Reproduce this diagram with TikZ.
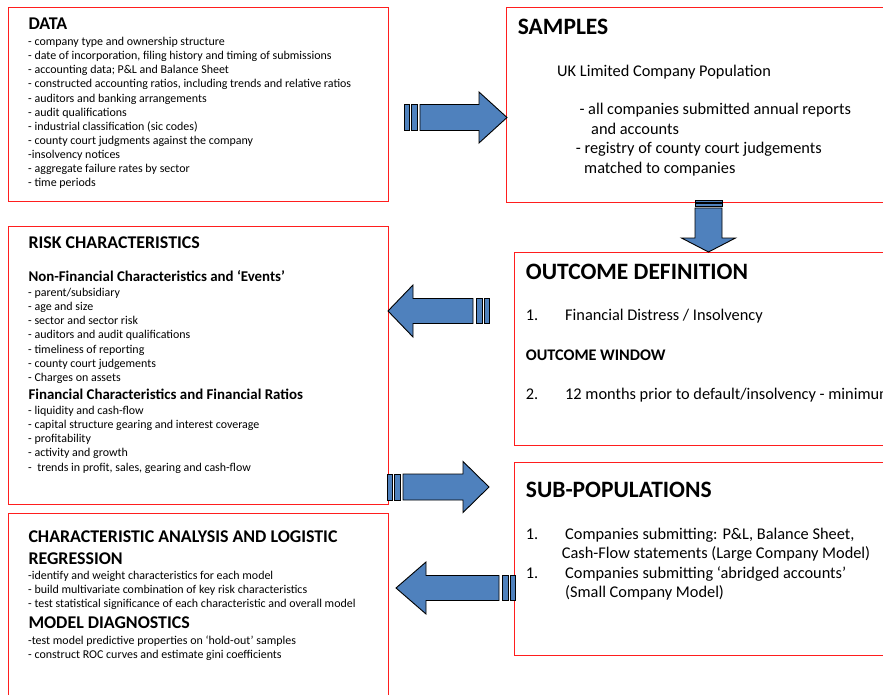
\documentclass[tikz,border=0pt]{standalone}
\usepackage{fontspec}
\setmainfont{Carlito}
\definecolor{arrblue}{RGB}{79,129,189}
\definecolor{boxred}{RGB}{255,30,30}
\tikzset{
  box/.style={draw=boxred, line width=0.9pt, rectangle, inner sep=0pt, anchor=north west},
  txt/.style={anchor=base west, inner sep=0pt, text=black},
  item/.style={txt, font=\fontsize{11.95}{14}\selectfont},
  ttl/.style={txt, font=\bfseries\fontsize{17.9}{21.6}\selectfont},
  subttl/.style={txt, font=\bfseries\fontsize{14.9}{17}\selectfont},
  big/.style={txt, font=\fontsize{16.35}{19.5}\selectfont},
  bigbold/.style={txt, font=\bfseries\fontsize{16.2}{19.5}\selectfont},
  bigttl/.style={txt, font=\bfseries\fontsize{23.5}{28}\selectfont},
  arrowfill/.style={fill=arrblue, draw=black, line width=0.9pt, line join=miter},
  arrlen/.store in=\arrL, arrhead/.store in=\arrH, arrshaft/.store in=\arrS,
  arrwide/.store in=\arrW, arrbar/.store in=\arrB,
  arrlen=100, arrhead=28, arrshaft=13, arrwide=26, arrbar=1,
  sarrow/.pic={
    \path[arrowfill] (0,-\arrS) rectangle ({5*\arrB},\arrS);
    \path[arrowfill] ({7*\arrB},-\arrS) rectangle ({13*\arrB},\arrS);
    \path[arrowfill] ({16*\arrB},-\arrS) -- ({\arrL-\arrH},-\arrS) -- ({\arrL-\arrH},-\arrW)
      -- (\arrL,0) -- ({\arrL-\arrH},\arrW) -- ({\arrL-\arrH},\arrS) -- ({16*\arrB},\arrS) -- cycle;
  }
}
\begin{document}
\begin{tikzpicture}[x=1pt,y=-1pt]
\useasboundingbox (0,0) rectangle (883,695);
\clip (0,0) rectangle (883,695);

% boxes
\node[box, minimum width=380pt, minimum height=194pt] (data) at (8,7) {};
\node[box, minimum width=400pt, minimum height=195pt] (samples) at (506,7) {};
\node[box, minimum width=380pt, minimum height=278pt] (risk) at (8,226) {};
\node[box, minimum width=390pt, minimum height=193pt] (outcome) at (514,252) {};
\node[box, minimum width=390pt, minimum height=193pt] (subpop) at (514,462) {};
\node[box, minimum width=380pt, minimum height=200pt] (charbox) at (8,513) {};

% DATA
\node[ttl] (dataT) at (28.3,29.3) {DATA};
\foreach \t [count=\i] in {
  {- company type and ownership structure},
  {- date of incorporation, filing history and timing of submissions},
  {- accounting data; P\&L and Balance Sheet},
  {- constructed accounting ratios, including trends and relative ratios},
  {- auditors and banking arrangements},
  {- audit qualifications},
  {- industrial classification (sic codes)},
  {- county court judgments against the company},
  {-insolvency notices},
  {- aggregate failure rates by sector},
  {- time periods}}
  \node[item] (d\i) at (28,{45.5+14.13*(\i-1)}) {\t};

% SAMPLES
\node[bigttl] (sampT) at (517.7,35) {SAMPLES};
\node[big] (s1) at (557,77) {UK Limited Company Population};
\node[big] (s2) at (579.3,115) {- all companies submitted annual reports};
\node[big] (s3) at (591,134.5) {and accounts};
\node[big] (s4) at (575.7,154) {- registry of county court judgements};
\node[big] (s5) at (584,173.5) {matched to companies};

% RISK
\node[ttl] (riskT) at (28.3,248) {RISK CHARACTERISTICS};
\node[subttl] (riskA) at (28.3,281) {Non-Financial Characteristics and ‘Events’};
\foreach \t [count=\i] in {
  {- parent/subsidiary},
  {- age and size},
  {- sector and sector risk},
  {- auditors and audit qualifications},
  {- timeliness of reporting},
  {- county court judgements},
  {- Charges on assets}}
  \node[item] (ra\i) at (28,{296+14.3*(\i-1)}) {\t};
\node[subttl] (riskB) at (28.3,399) {Financial Characteristics and Financial Ratios};
\foreach \t [count=\i] in {
  {- liquidity and cash-flow},
  {- capital structure gearing and interest coverage},
  {- profitability},
  {- activity and growth},
  {-\ \ trends in profit, sales, gearing and cash-flow}}
  \node[item] (rb\i) at (28,{414.3+14.2*(\i-1)}) {\t};

% OUTCOME
\node[bigttl] (outT) at (525.7,279) {OUTCOME DEFINITION};
\node[big] (o1n) at (525.7,320) {1.};
\node[big] (o1) at (565,320) {Financial Distress / Insolvency};
\node[bigbold] (owT) at (525.7,360) {OUTCOME WINDOW};
\node[big] (o2n) at (525.7,399) {2.};
\node[big] (o2) at (565,399) {12 months prior to default/insolvency - minimum};

% SUB-POPULATIONS
\node[bigttl] (subT) at (525.7,497.7) {SUB-POPULATIONS};
\node[big] (p1n) at (525.7,539) {1.};
\node[big] (p1) at (565,539) {Companies submitting: P\&L, Balance Sheet,};
\node[big] (p1b) at (561.7,558.5) {Cash-Flow statements (Large Company Model)};
\node[big] (p2n) at (525.7,578) {1.};
\node[big] (p2) at (565,578) {Companies submitting ‘abridged accounts’};
\node[big] (p2b) at (565,597.5) {(Small Company Model)};

% CHARACTERISTIC ANALYSIS
\node[ttl] (chT1) at (28.3,542.7) {CHARACTERISTIC ANALYSIS AND LOGISTIC};
\node[ttl] (chT2) at (28.3,564.3) {REGRESSION};
\foreach \t [count=\i] in {
  {-identify and weight characteristics for each model},
  {- build multivariate combination of key risk characteristics},
  {- test statistical significance of each characteristic and overall model}}
  \node[item] (c\i) at (28,{579.5+14*(\i-1)}) {\t};
\node[ttl] (mdT) at (28.3,628.3) {MODEL DIAGNOSTICS};
\node[item] (m1) at (28,644) {-test model predictive properties on ‘hold-out’ samples};
\node[item] (m2) at (28,658) {- construct ROC curves and estimate gini coefficients};

% striped block arrows
\pic[arrlen=103, arrhead=28, arrshaft=13, arrwide=25.5] at (404,117.5) {sarrow};
\pic[rotate=-90, arrlen=52, arrhead=14, arrshaft=13.5, arrwide=27, arrbar=0.5] at (708.5,200) {sarrow};
\pic[rotate=180, arrlen=101, arrhead=25, arrshaft=12.5, arrwide=26] at (489,311) {sarrow};
\pic[arrlen=102, arrhead=26, arrshaft=13, arrwide=25.5] at (387,487) {sarrow};
\pic[rotate=180, arrlen=119, arrhead=30, arrshaft=12.5, arrwide=26] at (515,588) {sarrow};
\end{tikzpicture}
\end{document}
